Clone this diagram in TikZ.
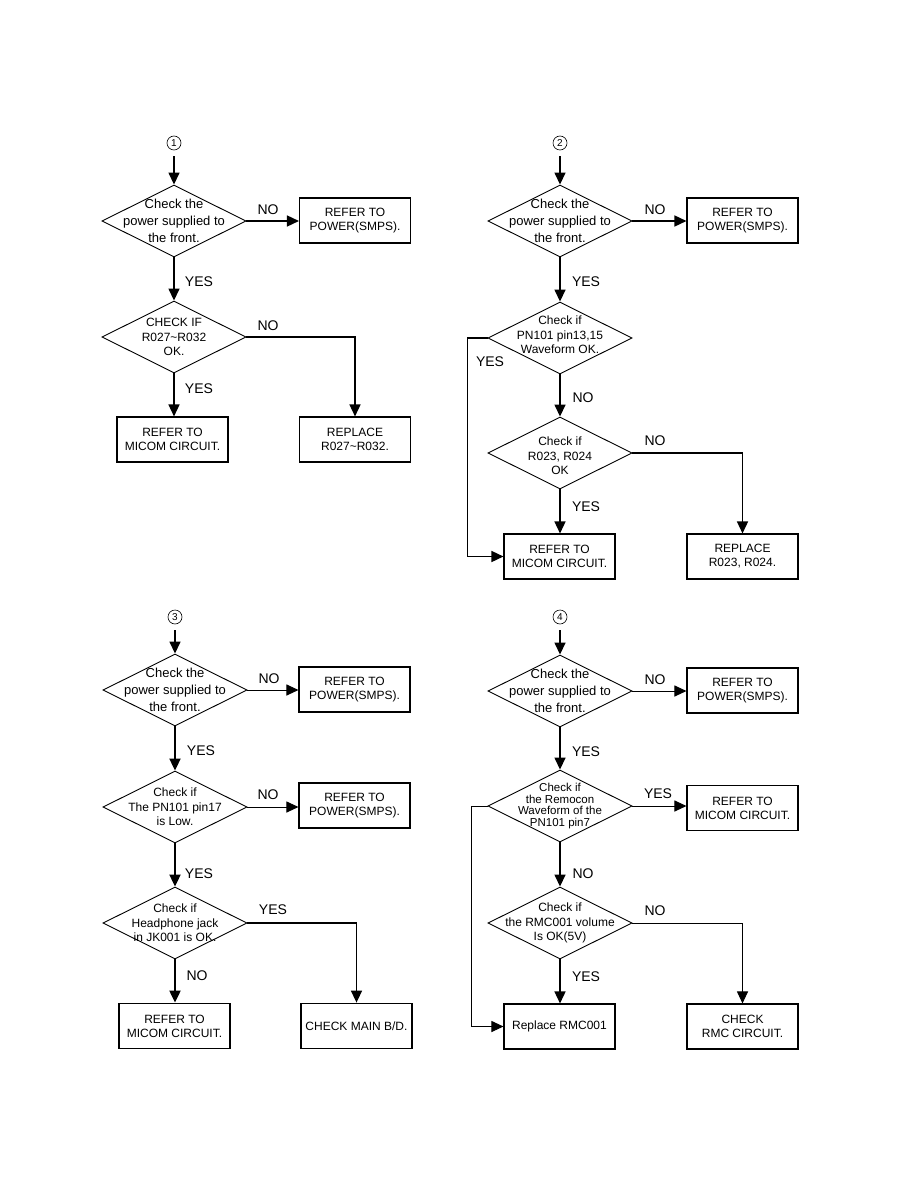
\documentclass[tikz,border=0pt]{standalone}
\usepackage{fontspec}
\setmainfont{Liberation Sans}
\usetikzlibrary{shapes.geometric, arrows.meta, positioning}

\begin{document}
\begin{tikzpicture}[x=1pt, y=-1pt,
      box/.style={draw, line width=1.1pt, minimum width=111pt, minimum height=45pt, inner sep=0pt, align=center, font=\fontsize{12}{14}\selectfont},
      dec/.style={draw, diamond, line width=0.9pt, minimum width=144pt, minimum height=72pt, inner sep=0pt},
      dtxt/.style={align=center, font=\fontsize{13}{17}\selectfont},
      stxt/.style={align=center, font=\fontsize{12}{14.5}\selectfont},
      lbl/.style={font=\fontsize{14}{16}\selectfont},
      num/.style={draw, circle, line width=0.6pt, minimum size=14pt, inner sep=0pt, font=\fontsize{10}{10}\selectfont},
      arr/.style={-{Triangle[length=12pt,width=11pt]}, line width=1.5pt}
    ]
      \useasboundingbox (0,0) rectangle (914,1190);

      % chart 1
      \node[num] (c1) at (174,143) {1};
      \node[dec] (a1) at (174,221) {};
      \node[dtxt] (a1t) at (a1) {Check the\\power supplied to\\the front.};
      \node[box] (a1b) at (355,220.5) {REFER TO\\POWER(SMPS).};
      \node[dec] (a2) at (174,337) {};
      \node[stxt] (a2t) at (a2) {CHECK IF\\R027\textasciitilde R032\\OK.};
      \node[box] (a3) at (172.5,439.5) {REFER TO\\MICOM CIRCUIT.};
      \node[box] (a4) at (355,439.5) {REPLACE\\R027\textasciitilde R032.};
      \draw[arr, shorten <=6pt] (c1) -- (a1.north);
      \draw[arr] (a1.east) -- (a1.east -| a1b.west);
      \draw[arr] (a1.south) -- (a2.north);
      \draw[arr] (a2.east) -| (a4.north);
      \draw[arr] (a2.south) -- (a2.south |- a3.north);
      \node[lbl] (a1no)  at (268,210) {NO};
      \node[lbl] (a1yes) at (199,282) {YES};
      \node[lbl] (a2no)  at (268,326) {NO};
      \node[lbl] (a2yes) at (199,389) {YES};

      % chart 2
      \node[num] (c2) at (560,143) {2};
      \node[dec] (b1) at (560,221) {};
      \node[dtxt] (b1t) at (b1) {Check the\\power supplied to\\the front.};
      \node[box] (b1b) at (742.5,220.5) {REFER TO\\POWER(SMPS).};
      \node[dec] (b2) at (560,338) {};
      \node[stxt] (b2t) at (560,335) {Check if\\PN101 pin13,15\\Waveform OK.};
      \node[dec] (b3) at (560,453) {};
      \node[stxt] (b3t) at (560,456) {Check if\\R023, R024\\OK};
      \node[box] (b4) at (559.5,556.5) {REFER TO\\MICOM CIRCUIT.};
      \node[box] (b5) at (742.5,556.5) {REPLACE\\R023, R024.};
      \draw[arr, shorten <=6pt] (c2) -- (b1.north);
      \draw[arr] (b1.east) -- (b1.east -| b1b.west);
      \draw[arr] (b1.south) -- (b2.north);
      \draw[arr] (b2.south) -- (b3.north);
      \draw[arr] (b3.east) -| (b5.north);
      \draw[arr] (b3.south) -- (b3.south |- b4.north);
      % yes loop round the left
      \draw[arr] (b2.west) -- ++(-20,0) |- (b4.west);
      \node[lbl] (b1no)  at (655,210) {NO};
      \node[lbl] (b1yes) at (586,282) {YES};
      \node[lbl] (b2yes) at (490,362) {YES};
      \node[lbl] (b2no)  at (583,398) {NO};
      \node[lbl] (b3no)  at (655,441) {NO};
      \node[lbl] (b3yes) at (586,507) {YES};

      % chart 3
      \node[num] (c3) at (175,617) {3};
      \node[dec] (d1) at (175,690) {};
      \node[dtxt] (d1t) at (d1) {Check the\\power supplied to\\the front.};
      \node[box] (d1b) at (354.5,689.5) {REFER TO\\POWER(SMPS).};
      \node[dec] (d2) at (175,807) {};
      \node[stxt] (d2t) at (d2) {Check if\\The PN101 pin17\\is Low.};
      \node[box] (d2b) at (354.5,805.5) {REFER TO\\POWER(SMPS).};
      \node[dec] (d3) at (175,923) {};
      \node[stxt] (d3t) at (d3) {Check if\\Headphone jack\\in JK001 is OK.};
      \node[box, line width=1.8pt] (d4) at (174.5,1026) {REFER TO\\MICOM CIRCUIT.};
      \node[box, line width=1.8pt] (d5) at (356.5,1026) {CHECK MAIN B/D.};
      \draw[arr, shorten <=6pt] (c3) -- (d1.north);
      \draw[arr, line width=1pt] (d1.east) -- (d1.east -| d1b.west);
      \draw[arr, line width=2pt] (d1.south) -- (d2.north);
      \draw[arr, line width=1pt] (d2.east) -- (d2.east -| d2b.west);
      \draw[arr, line width=2pt] (d2.south) -- (d3.north);
      \draw[arr] (d3.east) -| (d5.north);
      \draw[arr, line width=2pt] (d3.south) -- (d3.south |- d4.north);
      \node[lbl] (d1no)  at (269,679) {NO};
      \node[lbl] (d1yes) at (201,751) {YES};
      \node[lbl] (d2no)  at (268,795) {NO};
      \node[lbl] (d2yes) at (199,874) {YES};
      \node[lbl] (d3yes) at (273,910) {YES};
      \node[lbl] (d3no)  at (197,976) {NO};

      % chart 4
      \node[num] (c4) at (560,617) {4};
      \node[dec] (e1) at (560,691) {};
      \node[dtxt] (e1t) at (e1) {Check the\\power supplied to\\the front.};
      \node[box] (e1b) at (742.5,690.5) {REFER TO\\POWER(SMPS).};
      \node[dec] (e2) at (560,806) {};
      \node[align=center, font=\fontsize{11.5}{11.7}\selectfont] (e2t) at (e2) {Check if\\the Remocon\\Waveform of the\\PN101 pin7};
      \node[box] (e2b) at (742.5,808) {REFER TO\\MICOM CIRCUIT.};
      \node[dec] (e3) at (560,923) {};
      \node[stxt] (e3t) at (e3) {Check if\\the RMC001 volume\\Is OK(5V)};
      \node[box] (e4) at (559.5,1026.5) {Replace RMC001};
      \node[box] (e5) at (742.5,1026.5) {CHECK\\RMC CIRCUIT.};
      \draw[arr, shorten <=6pt] (c4) -- (e1.north);
      \draw[arr, line width=1pt] (e1.east) -- (e1.east -| e1b.west);
      \draw[arr] (e1.south) -- (e2.north);
      \draw[arr, line width=1pt] (e2.east) -- (e2.east -| e2b.west);
      \draw[arr] (e2.south) -- (e3.north);
      \draw[arr, line width=1pt] (e3.east) -| (e5.north);
      \draw[arr] (e3.south) -- (e3.south |- e4.north);
      % yes loop round the left
      \draw[arr, line width=1pt] (e2.west) -- ++(-16,0) |- (e4.west);
      \node[lbl] (e1no)  at (655,680) {NO};
      \node[lbl] (e1yes) at (586,752) {YES};
      \node[lbl] (e2yes) at (658,794) {YES};
      \node[lbl] (e2no)  at (583,874) {NO};
      \node[lbl] (e3no)  at (655,911) {NO};
      \node[lbl] (e3yes) at (586,977) {YES};
    \end{tikzpicture}
\end{document}
